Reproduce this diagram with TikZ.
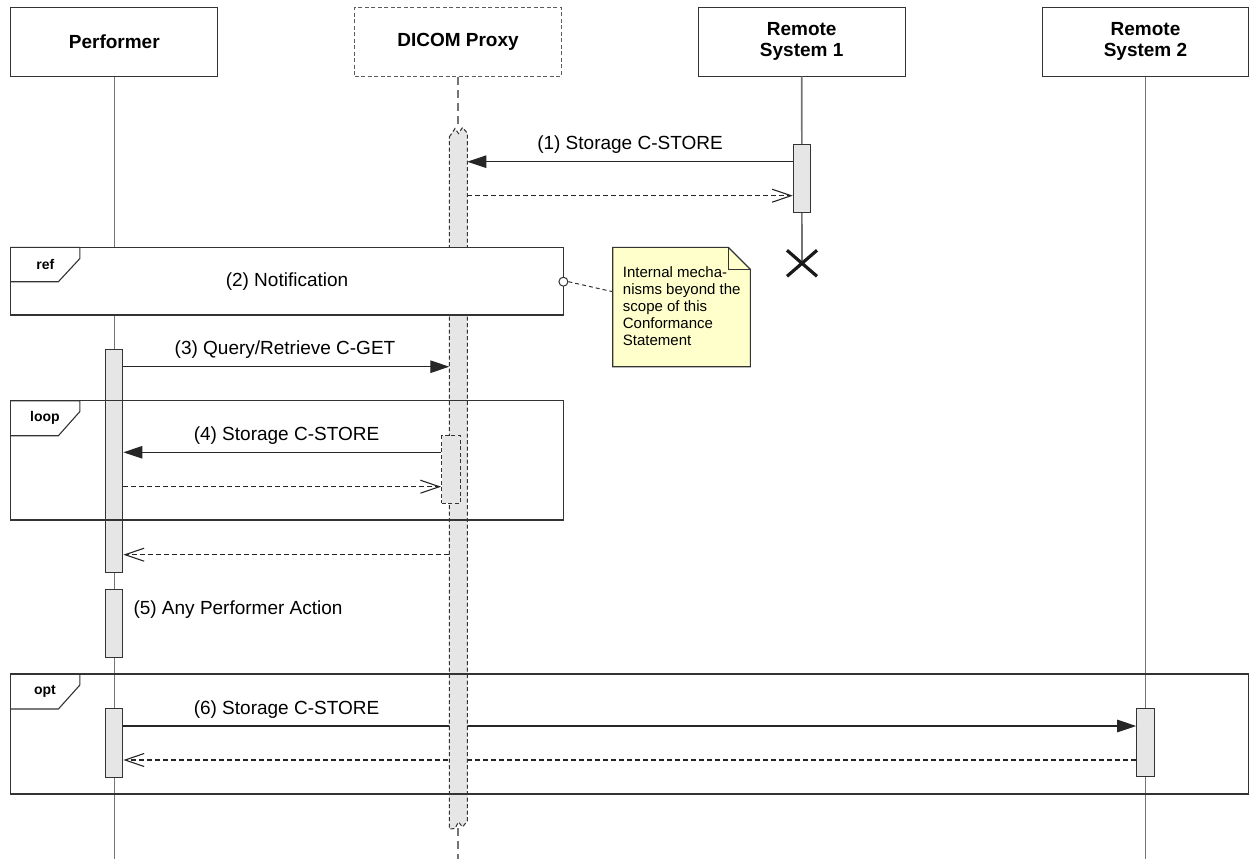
\documentclass[tikz,border=0pt]{standalone}
\usepackage{fontspec}
\setmainfont{Liberation Sans}
\usetikzlibrary{arrows.meta}
\definecolor{lifegray}{HTML}{747474}
\definecolor{actfill}{HTML}{E6E6E6}
\definecolor{notefill}{HTML}{FFFFCC}
\definecolor{edgec}{HTML}{333333}
\begin{document}
\begin{tikzpicture}[x=1pt,y=-1pt,
 header/.style={draw=edgec, line width=1pt, fill=white, minimum width=206.7pt, minimum height=68.7pt, inner sep=0pt, align=center, font=\fontsize{19}{20.5}\selectfont\bfseries},
 lifeline/.style={draw=lifegray, line width=1.6pt},
 act/.style={draw=edgec, fill=actfill, line width=1pt, inner sep=0pt},
 msg/.style={draw=black!85, line width=1.1pt, -{Triangle[length=19pt,width=12.5pt]}},
 ret/.style={draw=black!85, line width=1.1pt, dash pattern=on 5pt off 3pt, -{Straight Barb[length=19pt,width=13pt]}},
 lbl/.style={font=\fontsize{19}{20}\selectfont, inner sep=0pt},
 framebox/.style={draw=edgec, line width=1.1pt},
 tag/.style={font=\fontsize{14}{15}\selectfont\bfseries, inner sep=0pt},
 shortdash/.style={dash pattern=on 4pt off 2.5pt},
]
\useasboundingbox (0,0) rectangle (1249,859);
\coordinate (bot) at (0,859);

% lifelines
\node[header] (perf) at (114.3,41.65) {Performer};
\node[header, shortdash, draw=edgec!80] (prox) at (458,41.65) {DICOM Proxy};
\node[header] (rs1) at (801.7,41.65) {Remote\\System 1};
\node[header] (rs2) at (1145.5,41.65) {Remote\\System 2};

\coordinate (xc) at (802,263.3);
\coordinate (pxtop) at (458,128);
\coordinate (pxbot) at (458,828);
\draw[lifeline] (perf.south) -- (perf.south |- bot);
\draw[lifeline] (rs2.south) -- (rs2.south |- bot);
\draw[lifeline] (rs1.south) -- (xc);
\draw[lifeline, dash pattern=on 8pt off 5pt] (prox.south) -- (pxtop);
\draw[lifeline, dash pattern=on 8pt off 5pt] (pxbot) -- (prox.south |- bot);

% message rows
\coordinate (y1) at (0,161.7);
\coordinate (y1r) at (0,195.7);
\coordinate (y3) at (0,366.7);
\coordinate (y4) at (0,452.3);
\coordinate (y4r) at (0,486.7);
\coordinate (y3r) at (0,554.7);
\coordinate (y6) at (0,726);
\coordinate (y6r) at (0,760);

% activation nodes
\node[act, minimum width=17.3pt, minimum height=222.7pt] (pa1) at (114.25,460.65) {};
\node[act, minimum width=17.3pt, minimum height=68pt] (pa2) at (114.25,623.3) {};
\node[act, minimum width=17.3pt, minimum height=68.6pt] (pa3) at (114.25,743) {};
\node[act, minimum width=17.4pt, minimum height=68pt] (ra1) at (802,178) {};
\node[act, minimum width=17.6pt, minimum height=68pt] (ra2) at (1145.5,742) {};
\coordinate (pxL) at (449.3,480);
\coordinate (pxR) at (467.3,480);

% messages
\draw[msg] (ra1.west |- y1) -- (pxR |- y1);
\draw[ret] (pxR |- y1r) -- (ra1.west |- y1r);
\draw[msg] (pa1.east |- y3) -- (pxL |- y3);
\draw[ret] (pxL |- y3r) -- (pa1.east |- y3r);
\draw[msg] (pa3.east |- y6) -- (ra2.west |- y6);
\draw[ret] (ra2.west |- y6r) -- (pa3.east |- y6r);

% proxy main bar
\draw[draw=edgec, fill=actfill, line width=1pt, shortdash]
  (449.3,137) -- (455,128.5) -- (458.5,133.5) -- (462.5,127.5) -- (467.3,133)
  -- (467.3,821) -- (462.5,827) -- (458.5,822) -- (455,828.5) -- (449.3,829) -- cycle;
\node[act, shortdash, minimum width=18.4pt, minimum height=67.6pt] (pxin) at (450.8,469.5) {};
\draw[msg] (pxin.west |- y4) -- (pa1.east |- y4);
\draw[ret] (pa1.east |- y4r) -- (pxin.west |- y4r);

% labels
\node[lbl] (l1) at (630,145) {(1) Storage C-STORE};
\node[lbl] (l3) at (285,350) {(3) Query/Retrieve C-GET};
\node[lbl] (l4) at (286.5,435.5) {(4) Storage C-STORE};
\node[lbl, anchor=west] (l5) at (133.3,610) {(5) Any Performer Action};
\node[lbl] (l6) at (286.5,709.5) {(6) Storage C-STORE};

% destruction
\draw[line width=3.2pt, black!90] (xc) +(-15,-13) -- +(15,13) +(-15,13) -- +(15,-13);

% frames
\draw[framebox, fill=white] (10.4,247.3) rectangle (563.4,315);
\draw[framebox] (10.4,247.3) -- (79.9,247.3) -- (79.9,258.5) -- (58.4,281.7) -- (10.4,281.7);
\node[tag] (tref) at (45.3,264) {ref};
\node[lbl] (l2) at (287,281.7) {(2) Notification};

\draw[framebox] (10.4,400.7) rectangle (563.4,520);
\draw[framebox] (10.4,400.7) -- (79.9,400.7) -- (79.9,411.5) -- (58.4,435.7) -- (10.4,435.7);
\node[tag] (tloop) at (45,417.5) {loop};

\draw[framebox] (10.4,674) rectangle (1248.3,794);
\draw[framebox] (10.4,674) -- (79.9,674) -- (79.9,685) -- (58.4,709) -- (10.4,709);
\node[tag] (topt) at (45,691.5) {opt};

% note
\draw[draw=edgec, fill=notefill, line width=1.1pt]
  (612.7,247.3) -- (728.3,247.3) -- (750.3,269.3) -- (750.3,366.7) -- (612.7,366.7) -- cycle;
\draw[draw=edgec, line width=1.1pt] (728.3,247.3) -- (728.3,269.3) -- (750.3,269.3);
\coordinate (noteL) at (612.7,291.7);
\node[anchor=north west, align=left, inner sep=0pt, font=\fontsize{15}{17}\selectfont] (notetxt) at (622.7,266.5)
  {Internal mecha-\\nisms beyond the\\scope of this\\Conformance\\Statement};
\node[circle, draw=edgec, fill=white, line width=1pt, minimum size=9pt, inner sep=0pt] (knob) at (563.4,281.7) {};
\draw[draw=edgec, line width=1pt, dash pattern=on 4pt off 3pt] (knob.east) -- (noteL);
\end{tikzpicture}
\end{document}
